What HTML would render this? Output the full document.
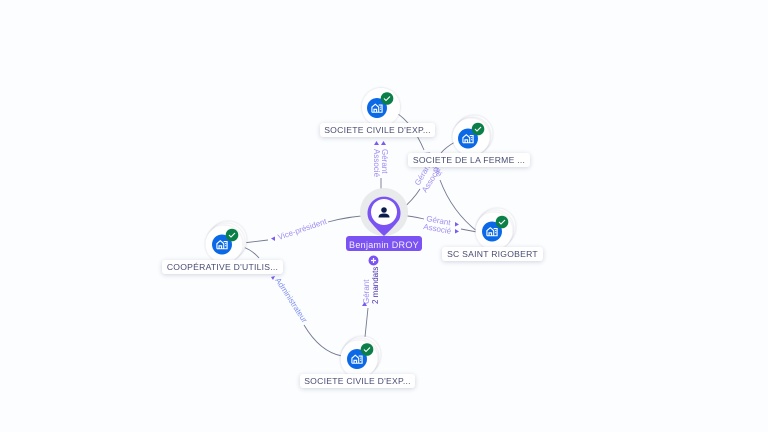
<!DOCTYPE html>
<html><head><meta charset="utf-8"><style>
html,body{margin:0;padding:0;width:768px;height:432px;overflow:hidden;background:#fbfdff}
svg{position:absolute;left:0;top:0}
.l{position:absolute;background:#fff;border-radius:3px;box-shadow:0 1px 5px rgba(40,50,90,.2);color:#474c72;font:8.6px/14px "Liberation Sans",sans-serif;text-align:center;white-space:nowrap;letter-spacing:.25px}
</style></head><body>
<svg width="768" height="432" viewBox="0 0 768 432" font-family="'Liberation Sans',sans-serif">
<defs>
<filter id="s" x="-30%" y="-30%" width="160%" height="160%"><feDropShadow dx="0" dy="0" stdDeviation="1" flood-color="#30385a" flood-opacity=".22"/></filter>
<g id="ico">
<circle r="10" fill="#0b69e8"/>
<g transform="scale(.85)">
<path d="M-6 5V-1L-2 -4.500L2 -1V5M-3.500 5V1.500H-.5V5M2 -3.500H6V5H-6" fill="none" stroke="#fff" stroke-width="1.300"/>
<path d="M3.500 -1H5M3.500 1.500H5" stroke="#fff" stroke-width="1.100"/>
</g>
<g transform="translate(10,-9.500)"><circle r="6.300" fill="#0b7f48"/><path d="M-3 0L-1 2L3 -2" fill="none" stroke="#fff" stroke-width="1.100"/></g>
</g>
</defs>
<g fill="none" stroke="#74788f" stroke-width=".9">
<path d="M381 193V178"/>
<path d="M395 112Q412 122 424 150"/>
<path d="M440 180Q452 212 478 232"/>
<path d="M401 210Q413 200 420 189"/>
<path d="M441 153Q446 147 455 142"/>
<path d="M375 215Q350 216 328 222"/>
<path d="M268 240L243 243"/>
<path d="M243 247Q252 250 259 258"/>
<path d="M304 325Q320 352 342 356"/>
<path d="M398 215Q412 216 424 219"/>
<path d="M461 229L477 232"/>
<path d="M368 308L365 337"/>
</g>
<g fill="#a18ff0" font-size="8">
<text transform="translate(374,149) rotate(90)">Associé</text>
<text transform="translate(382,149) rotate(90)">Gérant</text>
<path d="M374 145L379 145L376.500 141ZM381 145L386 145L383.500 141Z" fill="#7b5cf0"/>
<text transform="translate(419,186) rotate(-60)">Gérant</text>
<text transform="translate(426,193) rotate(-58)">Associé</text>
<text transform="translate(424,153) rotate(60)">Associé</text>
<text transform="translate(426,221) rotate(10)">Gérant</text>
<text transform="translate(423,229) rotate(10)">Associé</text>
<path d="M455 222L459 224.500L455 226.500ZM455 229L459 231.500L455 233.500Z" fill="#7b5cf0"/>
<text transform="translate(279,240) rotate(-19)">Vice-président</text>
<path d="M271 238.500L275 236.500V241Z" fill="#7b5cf0"/>
<text transform="translate(275,280) rotate(57)" fill="#7f8ff0">Administrateur</text>
<path d="M271 277L275 276L273 280Z" fill="#7b5cf0"/>
<text transform="translate(369,304) rotate(-90)">Gérant</text>
<text transform="translate(378,304) rotate(-90)" fill="#4a2fa8">2 mandats</text>
<path d="M362 306L367 306L364.500 302Z" fill="#7b5cf0"/>
</g>
<!-- center -->
<circle cx="384" cy="212" r="24" fill="#e9eaec"/>
<path d="M369 220A16.500 16.500 0 1 1 399 220Q393 228 384 236Q375 228 369 220Z" fill="#7b53f2"/>
<circle cx="384" cy="212" r="13" fill="#fff"/>
<circle cx="384" cy="210" r="2.800" fill="#0c1c4c"/>
<path d="M378.500 217.500Q378.500 213.500 384 213.500Q389.500 213.500 389.500 217.500Z" fill="#0c1c4c"/>
<rect x="346" y="236" width="76" height="15" rx="3" fill="#7b53f2"/>
<text x="384" y="248" fill="#f4f0ff" font-size="9" text-anchor="middle" letter-spacing=".3">Benjamin DROY</text>
<circle cx="373.500" cy="260.500" r="5" fill="#7b53f2"/>
<path d="M371 260.500H376M373.500 258V263" stroke="#fff" stroke-width="1.200"/>
<!-- nodes -->
<g fill="#fff">
<circle cx="381" cy="107" r="19" filter="url(#s)"/>
<circle cx="474" cy="134" r="18.500" filter="url(#s)"/><circle cx="472" cy="136" r="18.500" filter="url(#s)"/><circle cx="471" cy="137" r="18.500" filter="url(#s)"/>
<circle cx="497" cy="227" r="18.500" filter="url(#s)"/><circle cx="495" cy="229" r="18.500" filter="url(#s)"/><circle cx="494" cy="231" r="18.500" filter="url(#s)"/>
<circle cx="228" cy="240" r="18.500" filter="url(#s)"/><circle cx="226" cy="242" r="18.500" filter="url(#s)"/><circle cx="224" cy="244" r="18.500" filter="url(#s)"/>
<circle cx="362" cy="355" r="18.500" filter="url(#s)"/><circle cx="360" cy="357" r="18.500" filter="url(#s)"/><circle cx="359" cy="359" r="18.500" filter="url(#s)"/>
</g>
<use href="#ico" x="377" y="108"/>
<use href="#ico" x="468" y="138.500"/>
<use href="#ico" x="492" y="231.500"/>
<use href="#ico" x="222" y="244.500"/>
<use href="#ico" x="357" y="359"/>
</svg>
<div class="l" style="left:320px;top:123px;width:115px">SOCIETE CIVILE D'EXP...</div>
<div class="l" style="left:408px;top:153px;width:122px">SOCIETE DE LA FERME ...</div>
<div class="l" style="left:442px;top:247px;width:101px">SC SAINT RIGOBERT</div>
<div class="l" style="left:162px;top:260px;width:121px">COOPÉRATIVE D'UTILIS...</div>
<div class="l" style="left:300px;top:374px;width:115px">SOCIETE CIVILE D'EXP...</div>
</body></html>
